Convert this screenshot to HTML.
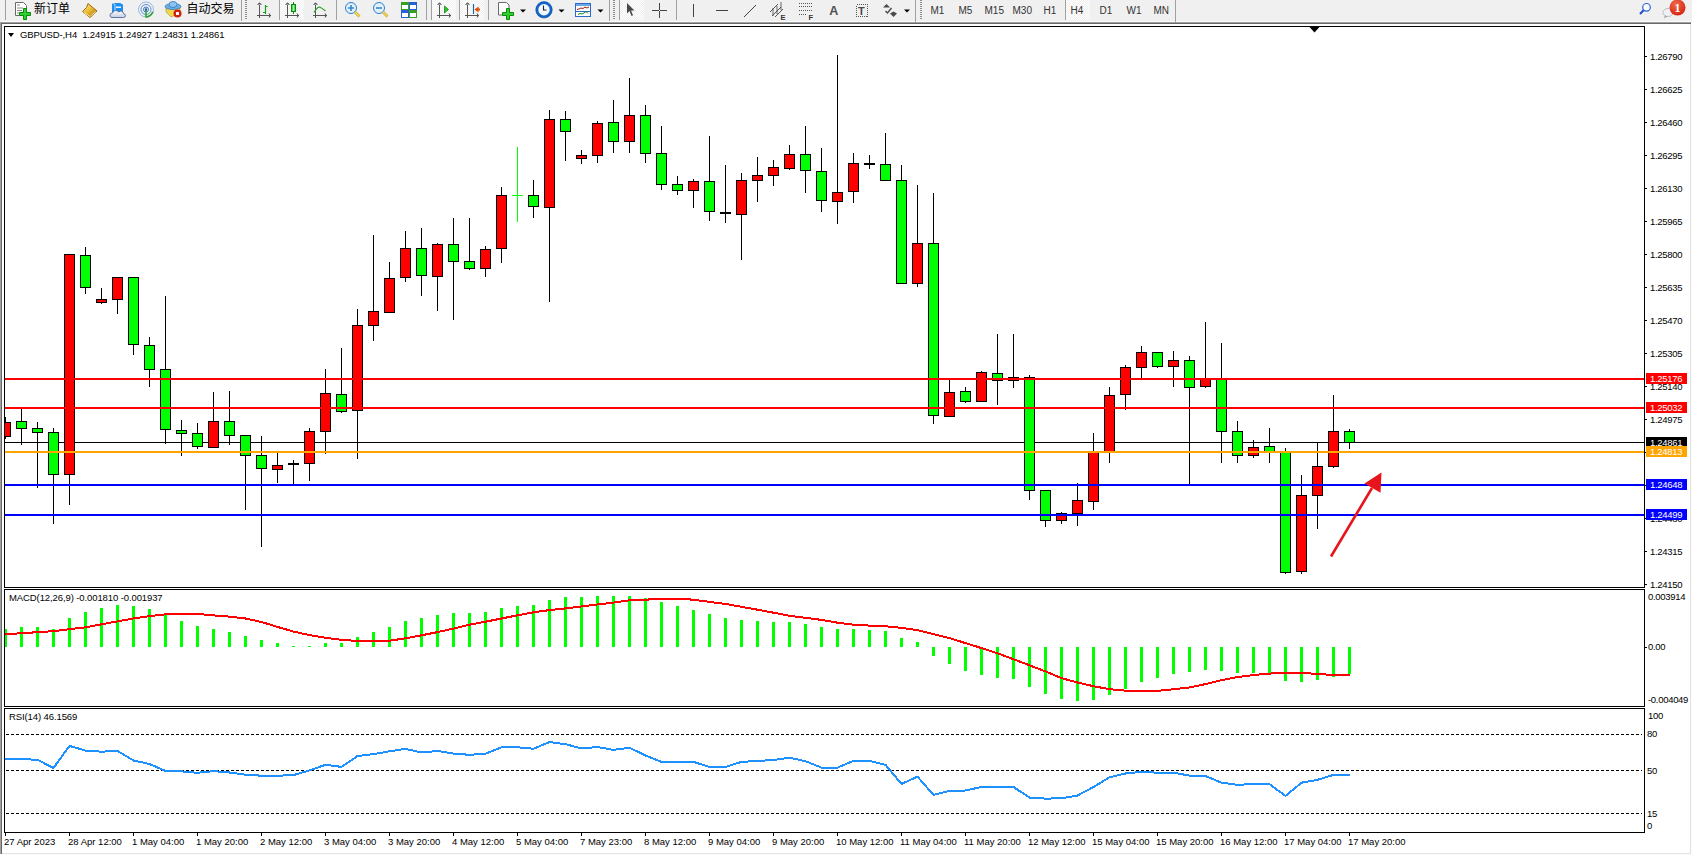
<!DOCTYPE html>
<html><head><meta charset="utf-8"><title>GBPUSD-,H4</title>
<style>
*{margin:0;padding:0;box-sizing:border-box}
html,body{width:1692px;height:855px;overflow:hidden;background:#f0f0f0}
body{position:relative;font-family:"Liberation Sans",Arial,sans-serif}
#client{position:absolute;left:2px;top:24px;width:1688px;height:829px;background:#fff}
.pl{position:absolute;left:1650px;letter-spacing:-0.3px;font-size:9.5px;line-height:12px;color:#000;white-space:nowrap}
.pb{position:absolute;left:1646px;width:41px;height:11px;letter-spacing:-0.3px;font-size:9.5px;line-height:12px;color:#fff;padding-left:4px;white-space:nowrap}
.tl{position:absolute;top:836px;font-size:9.5px;line-height:12px;color:#000;white-space:nowrap}
.ct{position:absolute;letter-spacing:-0.1px;font-size:9.5px;line-height:12px;color:#000;white-space:nowrap}
svg{position:absolute;left:0;top:0}
.tb{position:absolute;top:0;left:0;width:1692px;height:22px}
</style></head><body>
<div style="position:absolute;left:0;top:21px;width:1691px;height:1px;background:#fbfbfb"></div>
<div style="position:absolute;left:0;top:22px;width:1691px;height:1px;background:#a0a0a0"></div>
<div style="position:absolute;left:0;top:23px;width:1691px;height:1px;background:#696969"></div>
<div style="position:absolute;left:0;top:22px;width:1px;height:833px;background:#a0a0a0"></div>
<div style="position:absolute;left:1px;top:23px;width:1px;height:831px;background:#696969"></div>
<div id="client"></div>
<div style="position:absolute;left:1690px;top:24px;width:1px;height:830px;background:#e2e2e2"></div>
<div style="position:absolute;left:2px;top:853px;width:1689px;height:1px;background:#e2e2e2"></div>
<div style="position:absolute;left:1691px;top:22px;width:1px;height:833px;background:#fcfcfc"></div>
<div style="position:absolute;left:0;top:854px;width:1692px;height:1px;background:#fcfcfc"></div>
<svg class="tb" width="1692" height="22" viewBox="0 0 1692 22" style="position:absolute;left:0;top:0">
<defs>
<pattern id="chk" width="2" height="2" patternUnits="userSpaceOnUse"><rect width="2" height="2" fill="#f0f0f0"/><rect width="1" height="1" fill="#fff"/><rect x="1" y="1" width="1" height="1" fill="#fff"/></pattern>
<pattern id="grip" width="4" height="2" patternUnits="userSpaceOnUse"><rect x="0" y="0" width="3" height="1" fill="#8c8c8c"/></pattern>
<linearGradient id="gbody" x1="0" x2="1"><stop offset="0" stop-color="#22c322"/><stop offset="0.5" stop-color="#9cf59c"/><stop offset="1" stop-color="#1fb81f"/></linearGradient>
<linearGradient id="gold" x1="0" y1="0" x2="1" y2="1"><stop offset="0" stop-color="#fff2a0"/><stop offset="0.5" stop-color="#e8b830"/><stop offset="1" stop-color="#a86d10"/></linearGradient>
<linearGradient id="cloud" x1="0" y1="0" x2="0" y2="1"><stop offset="0" stop-color="#ffffff"/><stop offset="1" stop-color="#c4cde0"/></linearGradient>
<radialGradient id="badge" cx="0.4" cy="0.3" r="0.8"><stop offset="0" stop-color="#f0694a"/><stop offset="1" stop-color="#d41c0c"/></radialGradient>
</defs>
<g shape-rendering="crispEdges">
<!-- separators -->
<rect x="5" y="0" width="1" height="20" fill="#a0a0a0"/>
<rect x="241" y="0" width="1" height="21" fill="#a0a0a0"/>
<rect x="245" y="0" width="3" height="20" fill="url(#grip)"/>
<rect x="279" y="0" width="1" height="20" fill="#a0a0a0"/>
<rect x="280" y="0" width="24" height="20" fill="url(#chk)"/>
<rect x="336" y="0" width="1" height="20" fill="#a0a0a0"/>
<rect x="426" y="0" width="1" height="20" fill="#a0a0a0"/>
<rect x="431" y="0" width="1" height="20" fill="#a0a0a0"/>
<rect x="432" y="0" width="24" height="20" fill="url(#chk)"/>
<rect x="459" y="0" width="1" height="20" fill="#a0a0a0"/>
<rect x="460" y="0" width="24" height="20" fill="url(#chk)"/>
<rect x="488" y="0" width="1" height="20" fill="#a0a0a0"/>
<rect x="609" y="0" width="1" height="21" fill="#a0a0a0"/>
<rect x="613" y="0" width="3" height="20" fill="url(#grip)"/>
<rect x="619" y="0" width="1" height="20" fill="#a0a0a0"/>
<rect x="620" y="0" width="24" height="20" fill="url(#chk)"/>
<rect x="676" y="0" width="1" height="20" fill="#a0a0a0"/>
<rect x="915" y="0" width="1" height="22" fill="#a0a0a0"/>
<rect x="919" y="0" width="3" height="20" fill="url(#grip)"/>
<rect x="1065" y="0" width="1" height="20" fill="#a0a0a0"/>
<rect x="1066" y="0" width="24" height="20" fill="url(#chk)"/>
<rect x="1175" y="0" width="1" height="22" fill="#a0a0a0"/>
</g>
<!-- new order icon -->
<path d="M15.5 2.5h8l3 3v10h-11z" fill="#fff" stroke="#6a6a6a"/>
<path d="M17 5h3M17 8h6M17 10.5h5M17 13h4" stroke="#8a8a8a" stroke-width="1"/>
<path d="M19.5 12.5h4v-4h3v4h4v3h-4v4h-3v-4h-4z" fill="#2ed12e" stroke="#0a8a0a"/>
<!-- book -->
<path d="M88 3.5 L97 11 L90 17.5 L82.5 11.5 L86.5 7.5 Z" fill="url(#gold)" stroke="#a06a10" stroke-width="1"/>
<path d="M84 12.5 L90 16.5 M90.5 16 L96 11.5" stroke="#f3e2a0" stroke-width="1"/>
<!-- server cloud -->
<path d="M112 3h8l3 1.5v8h-11z" fill="#1d8ff0"/><path d="M112 3l3 1.5v8" stroke="#e8f4ff" stroke-width="0.8" fill="none"/><rect x="116" y="6.5" width="5" height="1.5" fill="#e8f4ff"/>
<path d="M112 17.5 q-2.2 0-2-2.5 q0.3-2 2.5-2 q0.7-2.5 3.2-2.5 q2 0 3 1.5 q1.2-1.3 3-0.8 q1.8 0.6 1.8 2.6 q2.2 0.3 2 2 q-0.2 1.7-2 1.7z" fill="url(#cloud)" stroke="#4f6a98" stroke-width="0.9"/>
<!-- radar -->
<circle cx="146" cy="9.5" r="7.5" fill="none" stroke="#8fb8e8" stroke-width="1"/>
<circle cx="146" cy="9.5" r="5" fill="none" stroke="#5a8fd8" stroke-width="1"/>
<circle cx="146" cy="9.5" r="2.5" fill="none" stroke="#3a70c8" stroke-width="1"/>
<circle cx="146" cy="9.5" r="1.2" fill="#2050b0"/>
<path d="M146 10 v7.5 M146 17 q4 0 7-5" stroke="#2aa22a" stroke-width="1.5" fill="none"/>
<!-- hat / auto trading -->
<path d="M166 12 L171 17 L180 13 L180 8 L166 8 Z" fill="#f0d850" stroke="#b09020" stroke-width="0.6"/>
<ellipse cx="173" cy="6.5" rx="8" ry="3" fill="#6aaee8" stroke="#3a78b8" stroke-width="0.8"/>
<ellipse cx="173" cy="4.5" rx="4" ry="3" fill="#8ac4f0" stroke="#3a78b8" stroke-width="0.8"/>
<circle cx="177.5" cy="13.5" r="4" fill="#d42010"/>
<rect x="176" y="12" width="3" height="3" fill="#fff"/>
<!-- bar chart icon -->
<g stroke="#555" stroke-width="1" fill="none" shape-rendering="crispEdges">
<path d="M259.5 5v13M257 15.5h14"/><path d="M287.5 5v13M285 15.5h14"/><path d="M315.5 5v13M313 15.5h14"/>
<path d="M439.5 5v13M437 15.5h14"/><path d="M467.5 5v13M465 15.5h14"/>
</g>
<path d="M257.5 4.5l2-1.5 2 1.5M269 13.5l1.5 2-1.5 2M285.5 4.5l2-1.5 2 1.5M297 13.5l1.5 2-1.5 2M313.5 4.5l2-1.5 2 1.5M325 13.5l1.5 2-1.5 2M437.5 4.5l2-1.5 2 1.5M449 13.5l1.5 2-1.5 2M465.5 4.5l2-1.5 2 1.5M477 13.5l1.5 2-1.5 2" stroke="#555" fill="#555" stroke-width="1"/>
<path d="M265.5 5v9M265.5 6.5h2M263 12.5h2.5" stroke="#18a018" stroke-width="1.2" fill="none"/>
<path d="M293.5 2v12" stroke="#0a8a0a" stroke-width="1"/>
<rect x="291.5" y="4.5" width="4" height="7" fill="url(#gbody)" stroke="#0a8a0a" stroke-width="1"/>
<path d="M314 12.5 q4-7 6.5-5 q2 1 5 3.5" stroke="#2aa22a" stroke-width="1.2" fill="none"/>
<!-- zoom in/out -->
<circle cx="351" cy="8" r="5.5" fill="#dff0fb" stroke="#2f7fd0" stroke-width="1"/>
<path d="M348 8h6M351 5v6" stroke="#3a88c8" stroke-width="1.6"/>
<path d="M355 12l4.5 4.5" stroke="#c8a418" stroke-width="2.6"/><path d="M355 12l4.5 4.5" stroke="#f5e06a" stroke-width="1.2"/>
<circle cx="379" cy="8" r="5.5" fill="#dff0fb" stroke="#2f7fd0" stroke-width="1"/>
<path d="M376 8h6" stroke="#3a88c8" stroke-width="1.6"/>
<path d="M383 12l4.5 4.5" stroke="#c8a418" stroke-width="2.6"/><path d="M383 12l4.5 4.5" stroke="#f5e06a" stroke-width="1.2"/>
<!-- tile windows -->
<g shape-rendering="crispEdges">
<rect x="401" y="2" width="8" height="8" fill="#38a020"/><rect x="409" y="2" width="8" height="8" fill="#2a5fd8"/>
<rect x="401" y="10" width="8" height="8" fill="#2a5fd8"/><rect x="409" y="10" width="8" height="8" fill="#38a020"/>
<rect x="402" y="5" width="6" height="4" fill="#fff"/><rect x="410" y="5" width="6" height="4" fill="#fff"/>
<rect x="402" y="13" width="6" height="4" fill="#fff"/><rect x="410" y="13" width="6" height="4" fill="#fff"/>
</g>
<!-- autoscroll triangle -->
<path d="M444.5 6v7l4-3.5z" fill="#30c030" stroke="#109010" stroke-width="0.8"/>
<!-- chart shift -->
<path d="M473.5 4v10" stroke="#1a6ab0" stroke-width="1.2"/>
<path d="M474.5 9.5l4-3v2h1.5v2h-1.5v2z" fill="#e0500a"/>
<!-- template icon -->
<path d="M498.5 2.5h8l2.5 2.5v10h-10.5z" fill="#fff" stroke="#6a6a6a"/>
<path d="M502.5 12.5h4v-4h3v4h4v3h-4v4h-3v-4h-4z" fill="#2ed12e" stroke="#0a8a0a"/>
<path d="M520 9.5h6l-3 3z" fill="#000"/>
<!-- clock -->
<circle cx="544" cy="9.8" r="7" fill="#f4f8ff" stroke="#1565c8" stroke-width="2.6"/><circle cx="544" cy="9.8" r="8.2" fill="none" stroke="#0d4fa0" stroke-width="0.6"/>
<path d="M543.5 5.5v4.5h3" stroke="#222" stroke-width="1.1" fill="none"/>
<path d="M558.5 9.5h6l-3 3z" fill="#000"/>
<!-- indicators window -->
<rect x="575.5" y="3.5" width="15" height="13" fill="#fff" stroke="#2a6ac8" stroke-width="1"/>
<rect x="576" y="4" width="14" height="2" fill="#6aa8e8"/>
<rect x="576" y="11" width="14" height="1" fill="#2a6ac8"/>
<path d="M577 9.5l2-0.5 2-1 2 0.5 2-1.5 2 1 2-1" stroke="#a01a0a" stroke-width="1" fill="none"/>
<path d="M578 14.5l2-1 2 0.5 2-1 2-1.5 2 2" stroke="#109010" stroke-width="1" fill="none"/>
<path d="M597.5 9.5h6l-3 3z" fill="#000"/>
<!-- cursor -->
<path d="M627 3v10.5l2.5-2.5 2 5 1.5-0.7-2-4.8h3.5z" fill="#4a4a4a"/>
<!-- crosshair -->
<g shape-rendering="crispEdges" fill="#444">
<rect x="652" y="10" width="7" height="1"/><rect x="660" y="10" width="7" height="1"/>
<rect x="659" y="3" width="1" height="7"/><rect x="659" y="11" width="1" height="7"/>
<rect x="693" y="4" width="1" height="13"/>
<rect x="716" y="10" width="12" height="1"/>
</g>
<path d="M744 17l12-12" stroke="#444" stroke-width="1"/>
<!-- channel -->
<path d="M770 12l8-8M772 16l9-9M775 17l8-8" stroke="#444" stroke-width="0.9"/>
<path d="M773 8v8M777 6v8M781 2v8" stroke="#444" stroke-width="0.8"/>
<text x="780.5" y="19.5" font-family="Liberation Sans,sans-serif" font-size="7.5" font-weight="bold" fill="#333">E</text>
<!-- fibo -->
<g fill="#555" shape-rendering="crispEdges">
<rect x="799" y="3" width="13" height="1"/><rect x="799" y="6" width="13" height="1"/><rect x="799" y="10" width="13" height="1"/><rect x="799" y="14" width="8" height="1"/>
</g>
<g fill="#f0f0f0" shape-rendering="crispEdges">
<rect x="800" y="3" width="1" height="12"/><rect x="802" y="3" width="1" height="12"/><rect x="804" y="3" width="1" height="12"/><rect x="806" y="3" width="1" height="12"/><rect x="808" y="3" width="1" height="8"/><rect x="810" y="3" width="1" height="8"/>
</g>
<text x="808.5" y="19.5" font-family="Liberation Sans,sans-serif" font-size="7.5" font-weight="bold" fill="#333">F</text>
<text x="829.3" y="15" font-family="Liberation Sans,sans-serif" font-size="12.5" font-weight="bold" fill="#505050">A</text>
<rect x="856.5" y="4.5" width="11" height="12" fill="none" stroke="#555" stroke-width="1" stroke-dasharray="1,1" shape-rendering="crispEdges"/>
<text x="858" y="15" font-family="Liberation Sans,sans-serif" font-size="11" font-weight="bold" fill="#4a4a4a">T</text>
<!-- arrows icon -->
<path d="M883 7.5l3.5-3.5 3.5 3.5z" fill="#4a4a4a"/>
<path d="M885.5 11l2 2 4-5" stroke="#4a4a4a" stroke-width="1.4" fill="none"/>
<path d="M890 13.5l3.5-2 3.5 2-3.5 3.5z" fill="#4a4a4a"/>
<path d="M904 9.5h6l-3 3z" fill="#000"/>
<!-- timeframes -->
<g font-family="Liberation Sans,sans-serif" font-size="10" fill="#333">
<text x="930.5" y="14">M1</text><text x="958.5" y="14">M5</text><text x="984.5" y="14">M15</text><text x="1012.5" y="14">M30</text>
<text x="1043.5" y="14">H1</text><text x="1070.5" y="14">H4</text><text x="1099.5" y="14">D1</text><text x="1126.5" y="14">W1</text><text x="1153.5" y="14">MN</text>
</g>
<!-- chinese labels -->
<g font-family="Liberation Sans,'Noto Sans CJK SC',sans-serif" font-size="12" fill="#000">
<text x="34" y="13">新订单</text><text x="186.5" y="13">自动交易</text>
</g>
<!-- search -->
<circle cx="1646.5" cy="7.3" r="3.8" fill="#fbfbff" stroke="#2a62d8" stroke-width="1.2"/>
<path d="M1643.8 10l-3.8 4" stroke="#2050c8" stroke-width="2"/>
<!-- messages -->
<ellipse cx="1668" cy="12.5" rx="5" ry="4" fill="#eef0f6" stroke="#b0b0b0" stroke-width="0.8"/>
<path d="M1665 15.5l-1 3 3-2z" fill="#999"/>
<circle cx="1677.5" cy="7.5" r="8" fill="url(#badge)"/>
<text x="1677.5" y="12" text-anchor="middle" font-family="Liberation Serif,serif" font-size="12" font-weight="bold" fill="#fff">1</text>
</svg>

<svg width="1692" height="855" viewBox="0 0 1692 855">
<rect x="4.5" y="26.5" width="1640" height="561" fill="none" stroke="#000" stroke-width="1"/>
<rect x="4.5" y="589.5" width="1640" height="117" fill="none" stroke="#000" stroke-width="1"/>
<rect x="4.5" y="708.5" width="1640" height="124" fill="none" stroke="#000" stroke-width="1"/>
<defs><clipPath id="cm"><rect x="5" y="27" width="1639" height="560"/></clipPath><clipPath id="cd"><rect x="5" y="590" width="1639" height="116"/></clipPath><clipPath id="cr"><rect x="5" y="709" width="1639" height="123"/></clipPath></defs>
<g clip-path="url(#cm)" shape-rendering="crispEdges">
<rect x="5" y="442" width="1639" height="1" fill="#000"/>
<rect x="5" y="417" width="1" height="5" fill="#000"/>
<rect x="5" y="437" width="1" height="2" fill="#000"/>
<rect x="0" y="422" width="11" height="15" fill="#000"/>
<rect x="1" y="423" width="9" height="13" fill="#ff0000"/>
<rect x="21" y="409" width="1" height="12" fill="#000"/>
<rect x="21" y="429" width="1" height="16" fill="#000"/>
<rect x="16" y="421" width="11" height="8" fill="#000"/>
<rect x="17" y="422" width="9" height="6" fill="#00ff00"/>
<rect x="37" y="422" width="1" height="6" fill="#000"/>
<rect x="37" y="433" width="1" height="55" fill="#000"/>
<rect x="32" y="428" width="11" height="5" fill="#000"/>
<rect x="33" y="429" width="9" height="3" fill="#00ff00"/>
<rect x="53" y="428" width="1" height="4" fill="#000"/>
<rect x="53" y="475" width="1" height="49" fill="#000"/>
<rect x="48" y="432" width="11" height="43" fill="#000"/>
<rect x="49" y="433" width="9" height="41" fill="#00ff00"/>
<rect x="69" y="475" width="1" height="30" fill="#000"/>
<rect x="64" y="254" width="11" height="221" fill="#000"/>
<rect x="65" y="255" width="9" height="219" fill="#ff0000"/>
<rect x="85" y="247" width="1" height="8" fill="#000"/>
<rect x="85" y="288" width="1" height="6" fill="#000"/>
<rect x="80" y="255" width="11" height="33" fill="#000"/>
<rect x="81" y="256" width="9" height="31" fill="#00ff00"/>
<rect x="101" y="288" width="1" height="11" fill="#000"/>
<rect x="101" y="303" width="1" height="1" fill="#000"/>
<rect x="96" y="299" width="11" height="4" fill="#000"/>
<rect x="97" y="300" width="9" height="2" fill="#ff0000"/>
<rect x="117" y="300" width="1" height="14" fill="#000"/>
<rect x="112" y="277" width="11" height="23" fill="#000"/>
<rect x="113" y="278" width="9" height="21" fill="#ff0000"/>
<rect x="133" y="345" width="1" height="10" fill="#000"/>
<rect x="128" y="277" width="11" height="68" fill="#000"/>
<rect x="129" y="278" width="9" height="66" fill="#00ff00"/>
<rect x="149" y="337" width="1" height="8" fill="#000"/>
<rect x="149" y="370" width="1" height="17" fill="#000"/>
<rect x="144" y="345" width="11" height="25" fill="#000"/>
<rect x="145" y="346" width="9" height="23" fill="#00ff00"/>
<rect x="165" y="296" width="1" height="73" fill="#000"/>
<rect x="165" y="430" width="1" height="14" fill="#000"/>
<rect x="160" y="369" width="11" height="61" fill="#000"/>
<rect x="161" y="370" width="9" height="59" fill="#00ff00"/>
<rect x="181" y="420" width="1" height="10" fill="#000"/>
<rect x="181" y="434" width="1" height="22" fill="#000"/>
<rect x="176" y="430" width="11" height="4" fill="#000"/>
<rect x="177" y="431" width="9" height="2" fill="#00ff00"/>
<rect x="197" y="423" width="1" height="10" fill="#000"/>
<rect x="197" y="447" width="1" height="2" fill="#000"/>
<rect x="192" y="433" width="11" height="14" fill="#000"/>
<rect x="193" y="434" width="9" height="12" fill="#00ff00"/>
<rect x="213" y="392" width="1" height="29" fill="#000"/>
<rect x="208" y="421" width="11" height="27" fill="#000"/>
<rect x="209" y="422" width="9" height="25" fill="#ff0000"/>
<rect x="229" y="391" width="1" height="30" fill="#000"/>
<rect x="229" y="436" width="1" height="9" fill="#000"/>
<rect x="224" y="421" width="11" height="15" fill="#000"/>
<rect x="225" y="422" width="9" height="13" fill="#00ff00"/>
<rect x="245" y="456" width="1" height="54" fill="#000"/>
<rect x="240" y="435" width="11" height="21" fill="#000"/>
<rect x="241" y="436" width="9" height="19" fill="#00ff00"/>
<rect x="261" y="436" width="1" height="19" fill="#000"/>
<rect x="261" y="469" width="1" height="78" fill="#000"/>
<rect x="256" y="455" width="11" height="14" fill="#000"/>
<rect x="257" y="456" width="9" height="12" fill="#00ff00"/>
<rect x="277" y="453" width="1" height="12" fill="#000"/>
<rect x="277" y="470" width="1" height="13" fill="#000"/>
<rect x="272" y="465" width="11" height="5" fill="#000"/>
<rect x="273" y="466" width="9" height="3" fill="#ff0000"/>
<rect x="293" y="460" width="1" height="24" fill="#000"/>
<rect x="288" y="463" width="11" height="2" fill="#000"/>
<rect x="309" y="428" width="1" height="3" fill="#000"/>
<rect x="309" y="464" width="1" height="17" fill="#000"/>
<rect x="304" y="431" width="11" height="33" fill="#000"/>
<rect x="305" y="432" width="9" height="31" fill="#ff0000"/>
<rect x="325" y="369" width="1" height="24" fill="#000"/>
<rect x="325" y="432" width="1" height="22" fill="#000"/>
<rect x="320" y="393" width="11" height="39" fill="#000"/>
<rect x="321" y="394" width="9" height="37" fill="#ff0000"/>
<rect x="341" y="348" width="1" height="46" fill="#000"/>
<rect x="341" y="412" width="1" height="1" fill="#000"/>
<rect x="336" y="394" width="11" height="18" fill="#000"/>
<rect x="337" y="395" width="9" height="16" fill="#00ff00"/>
<rect x="357" y="309" width="1" height="16" fill="#000"/>
<rect x="357" y="411" width="1" height="48" fill="#000"/>
<rect x="352" y="325" width="11" height="86" fill="#000"/>
<rect x="353" y="326" width="9" height="84" fill="#ff0000"/>
<rect x="373" y="235" width="1" height="76" fill="#000"/>
<rect x="373" y="326" width="1" height="15" fill="#000"/>
<rect x="368" y="311" width="11" height="15" fill="#000"/>
<rect x="369" y="312" width="9" height="13" fill="#ff0000"/>
<rect x="389" y="262" width="1" height="16" fill="#000"/>
<rect x="384" y="278" width="11" height="35" fill="#000"/>
<rect x="385" y="279" width="9" height="33" fill="#ff0000"/>
<rect x="405" y="231" width="1" height="17" fill="#000"/>
<rect x="405" y="278" width="1" height="4" fill="#000"/>
<rect x="400" y="248" width="11" height="30" fill="#000"/>
<rect x="401" y="249" width="9" height="28" fill="#ff0000"/>
<rect x="421" y="228" width="1" height="20" fill="#000"/>
<rect x="421" y="276" width="1" height="20" fill="#000"/>
<rect x="416" y="248" width="11" height="28" fill="#000"/>
<rect x="417" y="249" width="9" height="26" fill="#00ff00"/>
<rect x="437" y="243" width="1" height="1" fill="#000"/>
<rect x="437" y="277" width="1" height="34" fill="#000"/>
<rect x="432" y="244" width="11" height="33" fill="#000"/>
<rect x="433" y="245" width="9" height="31" fill="#ff0000"/>
<rect x="453" y="218" width="1" height="26" fill="#000"/>
<rect x="453" y="262" width="1" height="58" fill="#000"/>
<rect x="448" y="244" width="11" height="18" fill="#000"/>
<rect x="449" y="245" width="9" height="16" fill="#00ff00"/>
<rect x="469" y="218" width="1" height="43" fill="#000"/>
<rect x="469" y="269" width="1" height="1" fill="#000"/>
<rect x="464" y="261" width="11" height="8" fill="#000"/>
<rect x="465" y="262" width="9" height="6" fill="#00ff00"/>
<rect x="485" y="246" width="1" height="3" fill="#000"/>
<rect x="485" y="269" width="1" height="8" fill="#000"/>
<rect x="480" y="249" width="11" height="20" fill="#000"/>
<rect x="481" y="250" width="9" height="18" fill="#ff0000"/>
<rect x="501" y="187" width="1" height="8" fill="#000"/>
<rect x="501" y="249" width="1" height="14" fill="#000"/>
<rect x="496" y="195" width="11" height="54" fill="#000"/>
<rect x="497" y="196" width="9" height="52" fill="#ff0000"/>
<rect x="517" y="147" width="1" height="75" fill="#00ff00"/>
<rect x="512" y="195" width="11" height="1" fill="#00ff00"/>
<rect x="533" y="180" width="1" height="15" fill="#000"/>
<rect x="533" y="207" width="1" height="11" fill="#000"/>
<rect x="528" y="195" width="11" height="12" fill="#000"/>
<rect x="529" y="196" width="9" height="10" fill="#00ff00"/>
<rect x="549" y="110" width="1" height="9" fill="#000"/>
<rect x="549" y="208" width="1" height="94" fill="#000"/>
<rect x="544" y="119" width="11" height="89" fill="#000"/>
<rect x="545" y="120" width="9" height="87" fill="#ff0000"/>
<rect x="565" y="111" width="1" height="8" fill="#000"/>
<rect x="565" y="132" width="1" height="29" fill="#000"/>
<rect x="560" y="119" width="11" height="13" fill="#000"/>
<rect x="561" y="120" width="9" height="11" fill="#00ff00"/>
<rect x="581" y="150" width="1" height="5" fill="#000"/>
<rect x="581" y="159" width="1" height="5" fill="#000"/>
<rect x="576" y="155" width="11" height="4" fill="#000"/>
<rect x="577" y="156" width="9" height="2" fill="#ff0000"/>
<rect x="597" y="121" width="1" height="2" fill="#000"/>
<rect x="597" y="156" width="1" height="7" fill="#000"/>
<rect x="592" y="123" width="11" height="33" fill="#000"/>
<rect x="593" y="124" width="9" height="31" fill="#ff0000"/>
<rect x="613" y="100" width="1" height="22" fill="#000"/>
<rect x="613" y="142" width="1" height="11" fill="#000"/>
<rect x="608" y="122" width="11" height="20" fill="#000"/>
<rect x="609" y="123" width="9" height="18" fill="#00ff00"/>
<rect x="629" y="78" width="1" height="37" fill="#000"/>
<rect x="629" y="142" width="1" height="11" fill="#000"/>
<rect x="624" y="115" width="11" height="27" fill="#000"/>
<rect x="625" y="116" width="9" height="25" fill="#ff0000"/>
<rect x="645" y="105" width="1" height="10" fill="#000"/>
<rect x="645" y="154" width="1" height="9" fill="#000"/>
<rect x="640" y="115" width="11" height="39" fill="#000"/>
<rect x="641" y="116" width="9" height="37" fill="#00ff00"/>
<rect x="661" y="126" width="1" height="27" fill="#000"/>
<rect x="661" y="185" width="1" height="5" fill="#000"/>
<rect x="656" y="153" width="11" height="32" fill="#000"/>
<rect x="657" y="154" width="9" height="30" fill="#00ff00"/>
<rect x="677" y="176" width="1" height="8" fill="#000"/>
<rect x="677" y="191" width="1" height="4" fill="#000"/>
<rect x="672" y="184" width="11" height="7" fill="#000"/>
<rect x="673" y="185" width="9" height="5" fill="#00ff00"/>
<rect x="693" y="179" width="1" height="2" fill="#000"/>
<rect x="693" y="191" width="1" height="17" fill="#000"/>
<rect x="688" y="181" width="11" height="10" fill="#000"/>
<rect x="689" y="182" width="9" height="8" fill="#ff0000"/>
<rect x="709" y="136" width="1" height="45" fill="#000"/>
<rect x="709" y="212" width="1" height="9" fill="#000"/>
<rect x="704" y="181" width="11" height="31" fill="#000"/>
<rect x="705" y="182" width="9" height="29" fill="#00ff00"/>
<rect x="725" y="165" width="1" height="58" fill="#000"/>
<rect x="720" y="212" width="11" height="2" fill="#000"/>
<rect x="741" y="173" width="1" height="7" fill="#000"/>
<rect x="741" y="215" width="1" height="45" fill="#000"/>
<rect x="736" y="180" width="11" height="35" fill="#000"/>
<rect x="737" y="181" width="9" height="33" fill="#ff0000"/>
<rect x="757" y="157" width="1" height="18" fill="#000"/>
<rect x="757" y="181" width="1" height="21" fill="#000"/>
<rect x="752" y="175" width="11" height="6" fill="#000"/>
<rect x="753" y="176" width="9" height="4" fill="#ff0000"/>
<rect x="773" y="160" width="1" height="7" fill="#000"/>
<rect x="773" y="176" width="1" height="10" fill="#000"/>
<rect x="768" y="167" width="11" height="9" fill="#000"/>
<rect x="769" y="168" width="9" height="7" fill="#ff0000"/>
<rect x="789" y="145" width="1" height="9" fill="#000"/>
<rect x="789" y="169" width="1" height="1" fill="#000"/>
<rect x="784" y="154" width="11" height="15" fill="#000"/>
<rect x="785" y="155" width="9" height="13" fill="#ff0000"/>
<rect x="805" y="126" width="1" height="28" fill="#000"/>
<rect x="805" y="171" width="1" height="22" fill="#000"/>
<rect x="800" y="154" width="11" height="17" fill="#000"/>
<rect x="801" y="155" width="9" height="15" fill="#00ff00"/>
<rect x="821" y="148" width="1" height="23" fill="#000"/>
<rect x="821" y="201" width="1" height="11" fill="#000"/>
<rect x="816" y="171" width="11" height="30" fill="#000"/>
<rect x="817" y="172" width="9" height="28" fill="#00ff00"/>
<rect x="837" y="55" width="1" height="137" fill="#000"/>
<rect x="837" y="202" width="1" height="22" fill="#000"/>
<rect x="832" y="192" width="11" height="10" fill="#000"/>
<rect x="833" y="193" width="9" height="8" fill="#ff0000"/>
<rect x="853" y="153" width="1" height="10" fill="#000"/>
<rect x="853" y="192" width="1" height="11" fill="#000"/>
<rect x="848" y="163" width="11" height="29" fill="#000"/>
<rect x="849" y="164" width="9" height="27" fill="#ff0000"/>
<rect x="869" y="155" width="1" height="14" fill="#000"/>
<rect x="864" y="163" width="11" height="2" fill="#000"/>
<rect x="885" y="133" width="1" height="31" fill="#000"/>
<rect x="880" y="164" width="11" height="17" fill="#000"/>
<rect x="881" y="165" width="9" height="15" fill="#00ff00"/>
<rect x="901" y="165" width="1" height="15" fill="#000"/>
<rect x="896" y="180" width="11" height="104" fill="#000"/>
<rect x="897" y="181" width="9" height="102" fill="#00ff00"/>
<rect x="917" y="185" width="1" height="58" fill="#000"/>
<rect x="917" y="284" width="1" height="3" fill="#000"/>
<rect x="912" y="243" width="11" height="41" fill="#000"/>
<rect x="913" y="244" width="9" height="39" fill="#ff0000"/>
<rect x="933" y="193" width="1" height="50" fill="#000"/>
<rect x="933" y="416" width="1" height="8" fill="#000"/>
<rect x="928" y="243" width="11" height="173" fill="#000"/>
<rect x="929" y="244" width="9" height="171" fill="#00ff00"/>
<rect x="949" y="380" width="1" height="12" fill="#000"/>
<rect x="944" y="392" width="11" height="25" fill="#000"/>
<rect x="945" y="393" width="9" height="23" fill="#ff0000"/>
<rect x="965" y="387" width="1" height="4" fill="#000"/>
<rect x="965" y="402" width="1" height="1" fill="#000"/>
<rect x="960" y="391" width="11" height="11" fill="#000"/>
<rect x="961" y="392" width="9" height="9" fill="#00ff00"/>
<rect x="981" y="371" width="1" height="1" fill="#000"/>
<rect x="976" y="372" width="11" height="30" fill="#000"/>
<rect x="977" y="373" width="9" height="28" fill="#ff0000"/>
<rect x="997" y="334" width="1" height="39" fill="#000"/>
<rect x="997" y="381" width="1" height="24" fill="#000"/>
<rect x="992" y="373" width="11" height="8" fill="#000"/>
<rect x="993" y="374" width="9" height="6" fill="#00ff00"/>
<rect x="1013" y="334" width="1" height="43" fill="#000"/>
<rect x="1013" y="381" width="1" height="7" fill="#000"/>
<rect x="1008" y="377" width="11" height="4" fill="#000"/>
<rect x="1009" y="378" width="9" height="2" fill="#ff0000"/>
<rect x="1029" y="375" width="1" height="2" fill="#000"/>
<rect x="1029" y="491" width="1" height="9" fill="#000"/>
<rect x="1024" y="377" width="11" height="114" fill="#000"/>
<rect x="1025" y="378" width="9" height="112" fill="#00ff00"/>
<rect x="1045" y="521" width="1" height="6" fill="#000"/>
<rect x="1040" y="490" width="11" height="31" fill="#000"/>
<rect x="1041" y="491" width="9" height="29" fill="#00ff00"/>
<rect x="1061" y="512" width="1" height="1" fill="#000"/>
<rect x="1061" y="521" width="1" height="3" fill="#000"/>
<rect x="1056" y="513" width="11" height="8" fill="#000"/>
<rect x="1057" y="514" width="9" height="6" fill="#ff0000"/>
<rect x="1077" y="483" width="1" height="17" fill="#000"/>
<rect x="1077" y="514" width="1" height="12" fill="#000"/>
<rect x="1072" y="500" width="11" height="14" fill="#000"/>
<rect x="1073" y="501" width="9" height="12" fill="#ff0000"/>
<rect x="1093" y="433" width="1" height="19" fill="#000"/>
<rect x="1093" y="502" width="1" height="8" fill="#000"/>
<rect x="1088" y="452" width="11" height="50" fill="#000"/>
<rect x="1089" y="453" width="9" height="48" fill="#ff0000"/>
<rect x="1109" y="387" width="1" height="8" fill="#000"/>
<rect x="1109" y="452" width="1" height="11" fill="#000"/>
<rect x="1104" y="395" width="11" height="57" fill="#000"/>
<rect x="1105" y="396" width="9" height="55" fill="#ff0000"/>
<rect x="1125" y="365" width="1" height="2" fill="#000"/>
<rect x="1125" y="395" width="1" height="15" fill="#000"/>
<rect x="1120" y="367" width="11" height="28" fill="#000"/>
<rect x="1121" y="368" width="9" height="26" fill="#ff0000"/>
<rect x="1141" y="346" width="1" height="6" fill="#000"/>
<rect x="1141" y="368" width="1" height="10" fill="#000"/>
<rect x="1136" y="352" width="11" height="16" fill="#000"/>
<rect x="1137" y="353" width="9" height="14" fill="#ff0000"/>
<rect x="1157" y="367" width="1" height="1" fill="#000"/>
<rect x="1152" y="352" width="11" height="15" fill="#000"/>
<rect x="1153" y="353" width="9" height="13" fill="#00ff00"/>
<rect x="1173" y="351" width="1" height="9" fill="#000"/>
<rect x="1173" y="367" width="1" height="20" fill="#000"/>
<rect x="1168" y="360" width="11" height="7" fill="#000"/>
<rect x="1169" y="361" width="9" height="5" fill="#ff0000"/>
<rect x="1189" y="356" width="1" height="4" fill="#000"/>
<rect x="1189" y="388" width="1" height="96" fill="#000"/>
<rect x="1184" y="360" width="11" height="28" fill="#000"/>
<rect x="1185" y="361" width="9" height="26" fill="#00ff00"/>
<rect x="1205" y="322" width="1" height="57" fill="#000"/>
<rect x="1205" y="387" width="1" height="1" fill="#000"/>
<rect x="1200" y="379" width="11" height="8" fill="#000"/>
<rect x="1201" y="380" width="9" height="6" fill="#ff0000"/>
<rect x="1221" y="343" width="1" height="36" fill="#000"/>
<rect x="1221" y="432" width="1" height="31" fill="#000"/>
<rect x="1216" y="379" width="11" height="53" fill="#000"/>
<rect x="1217" y="380" width="9" height="51" fill="#00ff00"/>
<rect x="1237" y="421" width="1" height="10" fill="#000"/>
<rect x="1237" y="456" width="1" height="7" fill="#000"/>
<rect x="1232" y="431" width="11" height="25" fill="#000"/>
<rect x="1233" y="432" width="9" height="23" fill="#00ff00"/>
<rect x="1253" y="440" width="1" height="7" fill="#000"/>
<rect x="1253" y="456" width="1" height="2" fill="#000"/>
<rect x="1248" y="447" width="11" height="9" fill="#000"/>
<rect x="1249" y="448" width="9" height="7" fill="#ff0000"/>
<rect x="1269" y="428" width="1" height="18" fill="#000"/>
<rect x="1269" y="453" width="1" height="10" fill="#000"/>
<rect x="1264" y="446" width="11" height="7" fill="#000"/>
<rect x="1265" y="447" width="9" height="5" fill="#00ff00"/>
<rect x="1285" y="448" width="1" height="3" fill="#000"/>
<rect x="1285" y="573" width="1" height="1" fill="#000"/>
<rect x="1280" y="451" width="11" height="122" fill="#000"/>
<rect x="1281" y="452" width="9" height="120" fill="#00ff00"/>
<rect x="1301" y="475" width="1" height="20" fill="#000"/>
<rect x="1301" y="572" width="1" height="2" fill="#000"/>
<rect x="1296" y="495" width="11" height="77" fill="#000"/>
<rect x="1297" y="496" width="9" height="75" fill="#ff0000"/>
<rect x="1317" y="442" width="1" height="24" fill="#000"/>
<rect x="1317" y="496" width="1" height="33" fill="#000"/>
<rect x="1312" y="466" width="11" height="30" fill="#000"/>
<rect x="1313" y="467" width="9" height="28" fill="#ff0000"/>
<rect x="1333" y="395" width="1" height="36" fill="#000"/>
<rect x="1333" y="467" width="1" height="1" fill="#000"/>
<rect x="1328" y="431" width="11" height="36" fill="#000"/>
<rect x="1329" y="432" width="9" height="34" fill="#ff0000"/>
<rect x="1349" y="429" width="1" height="2" fill="#000"/>
<rect x="1349" y="443" width="1" height="6" fill="#000"/>
<rect x="1344" y="431" width="11" height="12" fill="#000"/>
<rect x="1345" y="432" width="9" height="10" fill="#00ff00"/>
<rect x="5" y="378" width="1639" height="2" fill="#ff0000"/>
<rect x="5" y="407" width="1639" height="2" fill="#ff0000"/>
<rect x="5" y="451" width="1639" height="2" fill="#ffa500"/>
<rect x="5" y="484" width="1639" height="2" fill="#0000ff"/>
<rect x="5" y="514" width="1639" height="2" fill="#0000ff"/>
</g>
<g fill="#e8141c" stroke="none"><line x1="1331" y1="556.5" x2="1372" y2="488" stroke="#e8141c" stroke-width="2.6"/><polygon points="1381.5,472.5 1364.5,483.5 1380.5,492.8"/></g>
<polygon points="1309.5,27 1319.5,27 1314.5,32.5" fill="#000"/>
<g clip-path="url(#cd)" shape-rendering="crispEdges">
<rect x="4" y="629" width="3" height="18" fill="#00ff00"/>
<rect x="20" y="627" width="3" height="20" fill="#00ff00"/>
<rect x="36" y="627" width="3" height="20" fill="#00ff00"/>
<rect x="52" y="629" width="3" height="18" fill="#00ff00"/>
<rect x="68" y="618" width="3" height="29" fill="#00ff00"/>
<rect x="84" y="612" width="3" height="35" fill="#00ff00"/>
<rect x="100" y="608" width="3" height="39" fill="#00ff00"/>
<rect x="116" y="605" width="3" height="42" fill="#00ff00"/>
<rect x="132" y="606" width="3" height="41" fill="#00ff00"/>
<rect x="148" y="609" width="3" height="38" fill="#00ff00"/>
<rect x="164" y="615" width="3" height="32" fill="#00ff00"/>
<rect x="180" y="621" width="3" height="26" fill="#00ff00"/>
<rect x="196" y="626" width="3" height="21" fill="#00ff00"/>
<rect x="212" y="629" width="3" height="18" fill="#00ff00"/>
<rect x="228" y="632" width="3" height="15" fill="#00ff00"/>
<rect x="244" y="636" width="3" height="11" fill="#00ff00"/>
<rect x="260" y="640" width="3" height="7" fill="#00ff00"/>
<rect x="276" y="643" width="3" height="4" fill="#00ff00"/>
<rect x="292" y="646" width="3" height="1" fill="#00ff00"/>
<rect x="308" y="646" width="3" height="1" fill="#00ff00"/>
<rect x="324" y="643" width="3" height="4" fill="#00ff00"/>
<rect x="340" y="643" width="3" height="4" fill="#00ff00"/>
<rect x="356" y="637" width="3" height="10" fill="#00ff00"/>
<rect x="372" y="632" width="3" height="15" fill="#00ff00"/>
<rect x="388" y="627" width="3" height="20" fill="#00ff00"/>
<rect x="404" y="621" width="3" height="26" fill="#00ff00"/>
<rect x="420" y="618" width="3" height="29" fill="#00ff00"/>
<rect x="436" y="615" width="3" height="32" fill="#00ff00"/>
<rect x="452" y="613" width="3" height="34" fill="#00ff00"/>
<rect x="468" y="613" width="3" height="34" fill="#00ff00"/>
<rect x="484" y="612" width="3" height="35" fill="#00ff00"/>
<rect x="500" y="608" width="3" height="39" fill="#00ff00"/>
<rect x="516" y="606" width="3" height="41" fill="#00ff00"/>
<rect x="532" y="605" width="3" height="42" fill="#00ff00"/>
<rect x="548" y="600" width="3" height="47" fill="#00ff00"/>
<rect x="564" y="597" width="3" height="50" fill="#00ff00"/>
<rect x="580" y="597" width="3" height="50" fill="#00ff00"/>
<rect x="596" y="596" width="3" height="51" fill="#00ff00"/>
<rect x="612" y="596" width="3" height="51" fill="#00ff00"/>
<rect x="628" y="596" width="3" height="51" fill="#00ff00"/>
<rect x="644" y="598" width="3" height="49" fill="#00ff00"/>
<rect x="660" y="602" width="3" height="45" fill="#00ff00"/>
<rect x="676" y="606" width="3" height="41" fill="#00ff00"/>
<rect x="692" y="610" width="3" height="37" fill="#00ff00"/>
<rect x="708" y="614" width="3" height="33" fill="#00ff00"/>
<rect x="724" y="618" width="3" height="29" fill="#00ff00"/>
<rect x="740" y="620" width="3" height="27" fill="#00ff00"/>
<rect x="756" y="621" width="3" height="26" fill="#00ff00"/>
<rect x="772" y="622" width="3" height="25" fill="#00ff00"/>
<rect x="788" y="622" width="3" height="25" fill="#00ff00"/>
<rect x="804" y="624" width="3" height="23" fill="#00ff00"/>
<rect x="820" y="627" width="3" height="20" fill="#00ff00"/>
<rect x="836" y="629" width="3" height="18" fill="#00ff00"/>
<rect x="852" y="629" width="3" height="18" fill="#00ff00"/>
<rect x="868" y="630" width="3" height="17" fill="#00ff00"/>
<rect x="884" y="631" width="3" height="16" fill="#00ff00"/>
<rect x="900" y="638" width="3" height="9" fill="#00ff00"/>
<rect x="916" y="642" width="3" height="5" fill="#00ff00"/>
<rect x="932" y="647" width="3" height="9" fill="#00ff00"/>
<rect x="948" y="647" width="3" height="17" fill="#00ff00"/>
<rect x="964" y="647" width="3" height="24" fill="#00ff00"/>
<rect x="980" y="647" width="3" height="28" fill="#00ff00"/>
<rect x="996" y="647" width="3" height="31" fill="#00ff00"/>
<rect x="1012" y="647" width="3" height="32" fill="#00ff00"/>
<rect x="1028" y="647" width="3" height="40" fill="#00ff00"/>
<rect x="1044" y="647" width="3" height="47" fill="#00ff00"/>
<rect x="1060" y="647" width="3" height="52" fill="#00ff00"/>
<rect x="1076" y="647" width="3" height="54" fill="#00ff00"/>
<rect x="1092" y="647" width="3" height="53" fill="#00ff00"/>
<rect x="1108" y="647" width="3" height="48" fill="#00ff00"/>
<rect x="1124" y="647" width="3" height="42" fill="#00ff00"/>
<rect x="1140" y="647" width="3" height="35" fill="#00ff00"/>
<rect x="1156" y="647" width="3" height="31" fill="#00ff00"/>
<rect x="1172" y="647" width="3" height="27" fill="#00ff00"/>
<rect x="1188" y="647" width="3" height="25" fill="#00ff00"/>
<rect x="1204" y="647" width="3" height="23" fill="#00ff00"/>
<rect x="1220" y="647" width="3" height="24" fill="#00ff00"/>
<rect x="1236" y="647" width="3" height="26" fill="#00ff00"/>
<rect x="1252" y="647" width="3" height="26" fill="#00ff00"/>
<rect x="1268" y="647" width="3" height="26" fill="#00ff00"/>
<rect x="1284" y="647" width="3" height="34" fill="#00ff00"/>
<rect x="1300" y="647" width="3" height="35" fill="#00ff00"/>
<rect x="1316" y="647" width="3" height="33" fill="#00ff00"/>
<rect x="1332" y="647" width="3" height="30" fill="#00ff00"/>
<rect x="1348" y="647" width="3" height="27" fill="#00ff00"/>
<polyline points="-10.5,634.2 5.5,633.8 21.5,633.4 37.5,632.1 53.5,631.2 69.5,629.2 85.5,627.3 101.5,624.3 117.5,621.4 133.5,618.5 149.5,616.2 165.5,614.3 181.5,613.6 197.5,613.9 213.5,615.4 229.5,616.6 245.5,618.5 261.5,622.0 277.5,626.9 293.5,631.6 309.5,635.1 325.5,637.7 341.5,639.9 357.5,640.9 373.5,640.9 389.5,640.7 405.5,638.3 421.5,635.3 437.5,632.1 453.5,628.6 469.5,624.7 485.5,621.7 501.5,618.5 517.5,615.3 533.5,612.3 549.5,610.1 565.5,608.4 581.5,606.5 597.5,604.5 613.5,602.6 629.5,600.3 645.5,599.7 661.5,598.7 677.5,598.7 693.5,599.7 709.5,601.9 725.5,603.9 741.5,606.8 757.5,609.7 773.5,612.7 789.5,615.8 805.5,617.8 821.5,619.9 837.5,622.7 853.5,624.7 869.5,625.6 885.5,626.3 901.5,627.9 917.5,630.1 933.5,634.1 949.5,638.1 965.5,643.1 981.5,648.1 997.5,653.2 1013.5,659.3 1029.5,665.3 1045.5,671.4 1061.5,678.1 1077.5,682.5 1093.5,686.2 1109.5,689.2 1125.5,690.6 1141.5,690.9 1157.5,690.9 1173.5,689.2 1189.5,687.5 1205.5,684.1 1221.5,680.1 1237.5,677.1 1253.5,675.0 1269.5,673.6 1285.5,672.7 1301.5,672.7 1317.5,674.0 1333.5,675.0 1349.5,675.0" fill="none" stroke="#ff0000" stroke-width="2" stroke-linejoin="round"/>
</g>
<g clip-path="url(#cr)">
<line x1="6" y1="734.5" x2="1642" y2="734.5" stroke="#000" stroke-width="1" stroke-dasharray="3,2" shape-rendering="crispEdges"/>
<line x1="6" y1="770.5" x2="1642" y2="770.5" stroke="#000" stroke-width="1" stroke-dasharray="3,2" shape-rendering="crispEdges"/>
<line x1="6" y1="813.5" x2="1642" y2="813.5" stroke="#000" stroke-width="1" stroke-dasharray="3,2" shape-rendering="crispEdges"/>
<polyline points="-10.5,759.1 5.5,759.1 21.5,759.1 37.5,759.8 53.5,768.0 69.5,745.9 85.5,750.6 101.5,751.7 117.5,750.9 133.5,760.5 149.5,764.0 165.5,770.9 181.5,771.4 197.5,772.8 213.5,771.1 229.5,772.5 245.5,774.7 261.5,775.7 277.5,775.7 293.5,775.1 309.5,770.4 325.5,764.8 341.5,766.9 357.5,756.0 373.5,754.1 389.5,751.3 405.5,748.9 421.5,752.4 437.5,751.0 453.5,753.6 469.5,754.8 485.5,753.7 501.5,747.3 517.5,747.3 533.5,748.7 549.5,742.1 565.5,744.2 581.5,748.4 597.5,747.0 613.5,749.9 629.5,747.7 645.5,755.5 661.5,761.9 677.5,761.9 693.5,761.9 709.5,766.9 725.5,766.9 741.5,761.9 757.5,760.9 773.5,760.1 789.5,757.7 805.5,761.2 821.5,767.6 837.5,767.6 853.5,760.9 869.5,760.9 885.5,764.8 901.5,783.9 917.5,776.7 933.5,794.8 949.5,790.9 965.5,790.5 981.5,787.0 997.5,786.7 1013.5,787.0 1029.5,797.6 1045.5,798.6 1061.5,798.3 1077.5,795.5 1093.5,787.0 1109.5,777.3 1125.5,773.5 1141.5,771.8 1157.5,772.7 1173.5,772.7 1189.5,775.6 1205.5,776.0 1221.5,782.7 1237.5,784.8 1253.5,784.1 1269.5,784.1 1285.5,795.9 1301.5,782.7 1317.5,779.8 1333.5,774.9 1349.5,774.9" fill="none" stroke="#1e90ff" stroke-width="2" stroke-linejoin="round" shape-rendering="crispEdges"/>
</g>
<g shape-rendering="crispEdges" fill="#000">
<rect x="1645" y="56" width="2" height="1"/>
<rect x="1645" y="89" width="2" height="1"/>
<rect x="1645" y="122" width="2" height="1"/>
<rect x="1645" y="155" width="2" height="1"/>
<rect x="1645" y="188" width="2" height="1"/>
<rect x="1645" y="221" width="2" height="1"/>
<rect x="1645" y="254" width="2" height="1"/>
<rect x="1645" y="287" width="2" height="1"/>
<rect x="1645" y="320" width="2" height="1"/>
<rect x="1645" y="353" width="2" height="1"/>
<rect x="1645" y="386" width="2" height="1"/>
<rect x="1645" y="419" width="2" height="1"/>
<rect x="1645" y="452" width="2" height="1"/>
<rect x="1645" y="485" width="2" height="1"/>
<rect x="1645" y="518" width="2" height="1"/>
<rect x="1645" y="551" width="2" height="1"/>
<rect x="1645" y="584" width="2" height="1"/>
<rect x="1645" y="647" width="2" height="1"/>
<rect x="5" y="833" width="1" height="3"/>
<rect x="69" y="833" width="1" height="3"/>
<rect x="133" y="833" width="1" height="3"/>
<rect x="197" y="833" width="1" height="3"/>
<rect x="261" y="833" width="1" height="3"/>
<rect x="325" y="833" width="1" height="3"/>
<rect x="389" y="833" width="1" height="3"/>
<rect x="453" y="833" width="1" height="3"/>
<rect x="517" y="833" width="1" height="3"/>
<rect x="581" y="833" width="1" height="3"/>
<rect x="645" y="833" width="1" height="3"/>
<rect x="709" y="833" width="1" height="3"/>
<rect x="773" y="833" width="1" height="3"/>
<rect x="837" y="833" width="1" height="3"/>
<rect x="901" y="833" width="1" height="3"/>
<rect x="965" y="833" width="1" height="3"/>
<rect x="1029" y="833" width="1" height="3"/>
<rect x="1093" y="833" width="1" height="3"/>
<rect x="1157" y="833" width="1" height="3"/>
<rect x="1221" y="833" width="1" height="3"/>
<rect x="1285" y="833" width="1" height="3"/>
<rect x="1349" y="833" width="1" height="3"/>
</g>
</svg>
<div class="ct" style="left:20px;top:29px">GBPUSD-,H4&nbsp; 1.24915 1.24927 1.24831 1.24861</div>
<div style="position:absolute;left:8px;top:33px;width:0;height:0;border-left:3.5px solid transparent;border-right:3.5px solid transparent;border-top:4px solid #000"></div>
<div class="ct" style="left:9px;top:592px">MACD(12,26,9) -0.001810 -0.001937</div>
<div class="ct" style="left:9px;top:711px">RSI(14) 46.1569</div>
<div class="pl" style="top:51px">1.26790</div>
<div class="pl" style="top:84px">1.26625</div>
<div class="pl" style="top:117px">1.26460</div>
<div class="pl" style="top:150px">1.26295</div>
<div class="pl" style="top:183px">1.26130</div>
<div class="pl" style="top:216px">1.25965</div>
<div class="pl" style="top:249px">1.25800</div>
<div class="pl" style="top:282px">1.25635</div>
<div class="pl" style="top:315px">1.25470</div>
<div class="pl" style="top:348px">1.25305</div>
<div class="pl" style="top:381px">1.25140</div>
<div class="pl" style="top:414px">1.24975</div>
<div class="pl" style="top:447px">1.24810</div>
<div class="pl" style="top:480px">1.24645</div>
<div class="pl" style="top:513px">1.24480</div>
<div class="pl" style="top:546px">1.24315</div>
<div class="pl" style="top:579px">1.24150</div>
<div class="pb" style="top:373px;background:#ff0000">1.25176</div>
<div class="pb" style="top:402px;background:#ff0000">1.25032</div>
<div class="pb" style="top:437px;background:#000000">1.24861</div>
<div class="pb" style="top:446px;background:#ffa500">1.24813</div>
<div class="pb" style="top:479px;background:#0000ff">1.24648</div>
<div class="pb" style="top:509px;background:#0000ff">1.24499</div>
<div class="pl" style="top:591px;left:1648px">0.003914</div>
<div class="pl" style="top:641px;left:1648px">0.00</div>
<div class="pl" style="top:694px;left:1648px">-0.004049</div>
<div class="pl" style="top:710px;left:1648px">100</div>
<div class="pl" style="top:728px;left:1647px">80</div>
<div class="pl" style="top:765px;left:1647px">50</div>
<div class="pl" style="top:808px;left:1647px">15</div>
<div class="pl" style="top:820px;left:1647px">0</div>
<div class="tl" style="left:4px">27 Apr 2023</div>
<div class="tl" style="left:68px">28 Apr 12:00</div>
<div class="tl" style="left:132px">1 May 04:00</div>
<div class="tl" style="left:196px">1 May 20:00</div>
<div class="tl" style="left:260px">2 May 12:00</div>
<div class="tl" style="left:324px">3 May 04:00</div>
<div class="tl" style="left:388px">3 May 20:00</div>
<div class="tl" style="left:452px">4 May 12:00</div>
<div class="tl" style="left:516px">5 May 04:00</div>
<div class="tl" style="left:580px">7 May 23:00</div>
<div class="tl" style="left:644px">8 May 12:00</div>
<div class="tl" style="left:708px">9 May 04:00</div>
<div class="tl" style="left:772px">9 May 20:00</div>
<div class="tl" style="left:836px">10 May 12:00</div>
<div class="tl" style="left:900px">11 May 04:00</div>
<div class="tl" style="left:964px">11 May 20:00</div>
<div class="tl" style="left:1028px">12 May 12:00</div>
<div class="tl" style="left:1092px">15 May 04:00</div>
<div class="tl" style="left:1156px">15 May 20:00</div>
<div class="tl" style="left:1220px">16 May 12:00</div>
<div class="tl" style="left:1284px">17 May 04:00</div>
<div class="tl" style="left:1348px">17 May 20:00</div>
</body></html>
